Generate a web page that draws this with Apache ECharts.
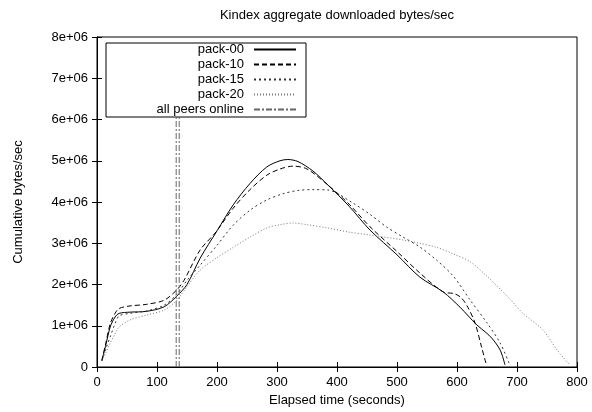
<!DOCTYPE html>
<html>
<head>
<meta charset="utf-8">
<script src="https://cdn.jsdelivr.net/npm/echarts@6/dist/echarts.min.js"></script>
<style>
  html, body { margin: 0; padding: 0; background: #fff; }
  #chart { width: 592px; height: 412px; }
</style>
</head>
<body>
<div id="chart"></div>
<script>
// elapsed time (s) and cumulative bytes/sec (in 1e6)
var pack00X = [8, 15, 22, 30, 37, 55, 83, 112, 133, 150, 172, 200, 227, 255, 283, 305, 318, 335, 360, 385, 420, 455, 500, 538, 577, 605, 633, 648, 658, 672, 680];
var pack00Y = [0.15, 0.55, 0.97, 1.21, 1.30, 1.33, 1.35, 1.46, 1.72, 2.0, 2.64, 3.3, 3.93, 4.45, 4.85, 5.0, 5.03, 4.98, 4.75, 4.41, 3.9, 3.32, 2.72, 2.18, 1.82, 1.45, 1.02, 0.84, 0.7, 0.41, 0.05];

var pack10X = [8, 15, 22, 30, 37, 55, 83, 112, 133, 145, 172, 197, 227, 255, 283, 305, 327, 350, 385, 420, 455, 500, 538, 577, 595, 607, 618, 630, 641, 649];
var pack10Y = [0.15, 0.6, 1.05, 1.3, 1.42, 1.48, 1.52, 1.62, 1.87, 2.1, 2.84, 3.25, 3.85, 4.3, 4.65, 4.8, 4.87, 4.8, 4.41, 3.95, 3.4, 2.8, 2.28, 1.82, 1.78, 1.68, 1.45, 1.07, 0.48, 0.05];

var pack15X = [8, 15, 22, 30, 37, 55, 83, 112, 133, 150, 172, 200, 227, 255, 283, 310, 335, 360, 385, 427, 455, 483, 510, 538, 566, 594, 622, 650, 672, 688];
var pack15Y = [0.15, 0.45, 0.73, 1.05, 1.24, 1.3, 1.36, 1.5, 1.76, 2.1, 2.47, 2.95, 3.44, 3.8, 4.05, 4.2, 4.28, 4.3, 4.29, 3.97, 3.7, 3.39, 3.15, 2.91, 2.59, 2.2, 1.62, 1.07, 0.58, 0.05];

var pack20X = [8, 15, 22, 30, 37, 55, 83, 112, 133, 150, 172, 200, 227, 255, 283, 305, 327, 350, 385, 420, 455, 510, 538, 566, 594, 622, 650, 688, 710, 743, 767, 788];
var pack20Y = [0.15, 0.35, 0.58, 0.8, 0.97, 1.14, 1.26, 1.38, 1.62, 1.95, 2.35, 2.65, 2.9, 3.15, 3.37, 3.45, 3.49, 3.45, 3.37, 3.27, 3.2, 3.08, 3.0, 2.9, 2.74, 2.55, 2.2, 1.65, 1.3, 0.9, 0.41, 0.05];

// "all peers online" marker, drawn as a double vertical line
var peersOnlineX = [132, 137];
// visible part of the marker ends under the key box
var peersOnlineTop = 6.05e6;

var xTicks = [0, 100, 200, 300, 400, 500, 600, 700, 800];
var yTicks = [0, 1e6, 2e6, 3e6, 4e6, 5e6, 6e6, 7e6, 8e6];

function pairs(xs, ys) {
    var out = [];
    for (var i = 0; i < xs.length; i++) {
        out.push([xs[i], ys[i] * 1e6]);
    }
    return out;
}

var peersData = [];
peersOnlineX.forEach(function (x, i) {
    if (i > 0) peersData.push([x, '-']);
    peersData.push([x, yTicks[0]]);
    peersData.push([x, peersOnlineTop]);
});

var font = 'Liberation Sans, Arial, Helvetica, sans-serif';

function lineSeries(name, data, color, type) {
    return {
        name: name,
        type: 'line',
        data: data,
        smooth: 0.3,
        symbol: 'none',
        silent: true,
        z: 1,
        connectNulls: false,
        lineStyle: { color: color, width: 1, type: type },
        itemStyle: { color: color }
    };
}

var axisCommon = {
    type: 'value',
    axisLine: { lineStyle: { color: '#000', width: 1 } },
    axisTick: { inside: true, length: 5, lineStyle: { color: '#000' } },
    splitLine: { show: false }
};

var chart = echarts.init(document.getElementById('chart'));
chart.setOption({
    animation: false,
    backgroundColor: '#fff',
    title: {
        text: 'Kindex aggregate downloaded bytes/sec',
        left: 337,
        textAlign: 'center',
        top: 9,
        padding: 0,
        textStyle: { fontFamily: font, fontSize: 13, fontWeight: 'normal', color: '#000' }
    },
    legend: {
        orient: 'vertical',
        left: 106,
        top: 43,
        z: 10,
        padding: [0, 9, 1, 5],
        align: 'right',
        itemWidth: 42,
        itemHeight: 12,
        itemGap: 2,
        selectedMode: false,
        backgroundColor: '#fff',
        borderColor: '#000',
        borderWidth: 1,
        borderRadius: 0,
        itemStyle: { color: 'rgba(0,0,0,0)', borderWidth: 0, opacity: 0 },
        textStyle: {
            fontFamily: font, fontSize: 13, color: '#000',
            width: 133, lineHeight: 12, align: 'right', padding: [0, 5, 0, 0]
        },
        data: ['pack-00', 'pack-10', 'pack-15', 'pack-20', 'all peers online']
    },
    grid: { left: 97, right: 15, top: 37, bottom: 45, show: true, borderColor: '#000', borderWidth: 1 },
    xAxis: [
        Object.assign({}, axisCommon, {
            min: xTicks[0], max: xTicks[xTicks.length - 1], interval: 100,
            name: 'Elapsed time (seconds)',
            nameLocation: 'middle',
            nameGap: 25,
            nameTextStyle: { fontFamily: font, fontSize: 13, color: '#000' },
            axisLabel: { fontFamily: font, fontSize: 13, color: '#000', margin: 9 }
        }),
        Object.assign({}, axisCommon, {
            position: 'top',
            min: xTicks[0], max: xTicks[xTicks.length - 1], interval: 100,
            axisLabel: { show: false }
        })
    ],
    yAxis: [
        Object.assign({}, axisCommon, {
            min: yTicks[0], max: yTicks[yTicks.length - 1], interval: 1e6,
            name: 'Cumulative bytes/sec',
            nameLocation: 'middle',
            nameGap: 72,
            nameTextStyle: { fontFamily: font, fontSize: 13, color: '#000' },
            axisLabel: {
                fontFamily: font, fontSize: 13, color: '#000', margin: 9,
                formatter: function (v) { return v === 0 ? '0' : (v / 1e6) + 'e+06'; }
            }
        }),
        Object.assign({}, axisCommon, {
            position: 'right',
            min: yTicks[0], max: yTicks[yTicks.length - 1], interval: 1e6,
            axisLabel: { show: false }
        })
    ],
    series: [
        lineSeries('pack-00', pairs(pack00X, pack00Y), '#000', 'solid'),
        lineSeries('pack-10', pairs(pack10X, pack10Y), '#000', [5, 3]),
        lineSeries('pack-15', pairs(pack15X, pack15Y), '#333', [2, 3]),
        lineSeries('pack-20', pairs(pack20X, pack20Y), '#777', [1, 2]),
        Object.assign(lineSeries('all peers online', peersData, '#666', [6, 2, 2, 2]), { smooth: false })
    ]
});
</script>
</body>
</html>
